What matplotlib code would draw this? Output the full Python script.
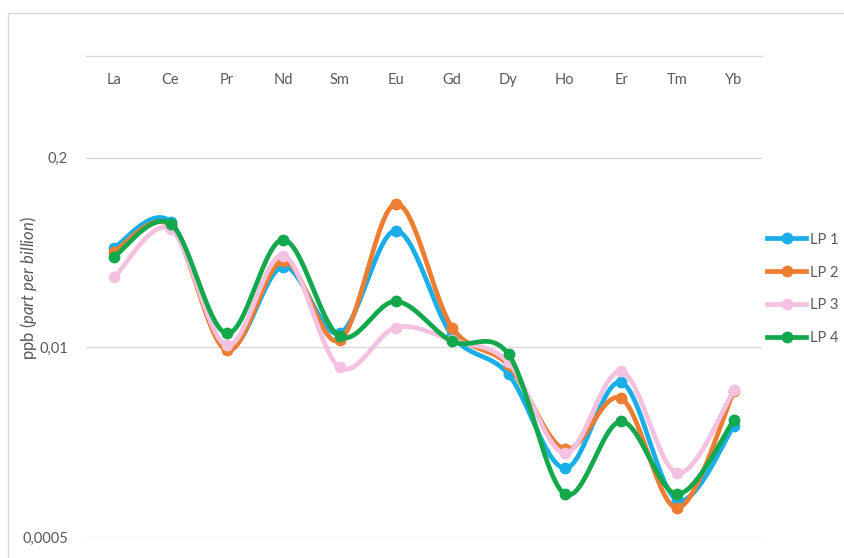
import numpy as np
import matplotlib
matplotlib.use("Agg")
import matplotlib.pyplot as plt
from matplotlib.lines import Line2D
from matplotlib.patches import Rectangle

plt.rcParams['font.family'] = ['Lato', 'DejaVu Sans']
plt.rcParams['mathtext.fontset'] = 'custom'
plt.rcParams['mathtext.rm'] = 'Lato'
plt.rcParams['mathtext.it'] = 'Lato:italic'

elements = ["La", "Ce", "Pr", "Nd", "Sm", "Eu", "Gd", "Dy", "Ho", "Er", "Tm", "Yb"]

lp1 = [0.0484, 0.0729, 0.00984, 0.0359, 0.01247, 0.0633, 0.01208, 0.00653, 0.00148, 0.00576, 0.000896, 0.00288]
lp2 = [0.0454, 0.0684, 0.00954, 0.0394, 0.01117, 0.0968, 0.0137, 0.00753, 0.00200, 0.00447, 0.00079, 0.00500]
lp3 = [0.0302, 0.0653, 0.01032, 0.0427, 0.0073, 0.0137, 0.01117, 0.00789, 0.00188, 0.00685, 0.00137, 0.00508]
lp4 = [0.0420, 0.0707, 0.01247, 0.0549, 0.0119, 0.0207, 0.01099, 0.00896, 0.000985, 0.00311, 0.000985, 0.00316]

series = [("LP 1", lp1, "#1AAEE8"),
          ("LP 2", lp2, "#ED7D31"),
          ("LP 3", lp3, "#F5C1E1"),
          ("LP 4", lp4, "#12A84B")]

y_ticks = [0.0005, 0.01, 0.2]
y_tick_labels = ["0,0005", "0,01", "0,2"]

text_col = "#595959"
grid_col = "#D9D9D9"


def smooth(x, logy, n=30):
    """Catmull-Rom spline through the points (x, log y)."""
    p = np.column_stack([x, logy])
    p = np.vstack([p[0], p, p[-1]])
    out = []
    t = np.linspace(0, 1, n, endpoint=False)
    for i in range(1, len(p) - 2):
        p0, p1, p2, p3 = p[i - 1], p[i], p[i + 1], p[i + 2]
        c1 = p1 + (p2 - p0) / 6.0
        c2 = p2 - (p3 - p1) / 6.0
        tt = t[:, None]
        seg = ((1 - tt) ** 3 * p1 + 3 * (1 - tt) ** 2 * tt * c1
               + 3 * (1 - tt) * tt ** 2 * c2 + tt ** 3 * p2)
        out.append(seg)
    out.append(p[-2][None, :])
    out = np.vstack(out)
    return out[:, 0], 10 ** out[:, 1]


fig = plt.figure(figsize=(8.45, 5.58), dpi=100)
fig.patches.append(Rectangle((8 / 845, -0.1), 1.2, 1 - 13 / 558 + 0.1,
                             transform=fig.transFigure, fill=False,
                             edgecolor=grid_col, linewidth=1.0))
ax = fig.add_axes([86 / 845, 1 - 537 / 558, 676 / 845, 481 / 558])

x = np.arange(len(elements))
for i, (name, vals, col) in enumerate(series):
    xs, ys = smooth(x, np.log10(vals))
    ax.plot(xs, ys, color=col, linewidth=3.4, solid_capstyle='round', zorder=3 + i)
    ax.plot(x, vals, linestyle='none', marker='o', markersize=7.5,
            color=col, zorder=3 + i)

ax.set_yscale('log', base=20)
ax.set_ylim(0.0005, 1)
ax.set_xlim(-0.5, len(elements) - 0.5)
ax.set_yticks(y_ticks)
ax.set_yticklabels(y_tick_labels)
ax.yaxis.set_minor_locator(matplotlib.ticker.NullLocator())
ax.tick_params(axis='y', length=0, pad=13, labelsize=10.5, labelcolor=text_col)
ax.grid(axis='y', color=grid_col, linewidth=1.0)
ax.set_axisbelow(True)

ax.set_xticks(x)
ax.set_xticklabels(elements)
ax.xaxis.tick_top()
ax.tick_params(axis='x', length=0, pad=-22, labelsize=10.5, labelcolor=text_col)

for s in ['left', 'right', 'bottom']:
    ax.spines[s].set_visible(False)
ax.spines['top'].set_color(grid_col)
ax.spines['top'].set_linewidth(1.0)

ax.set_ylabel(r"ppb ($\it{part\ per\ billion}$)", fontsize=12, color=text_col)
ax.yaxis.set_label_coords(-0.069, 0.518)

handles = [Line2D([0], [0], color=col, linewidth=3.4, marker='o', markersize=7.5)
           for _, _, col in series]
leg = fig.legend(handles, [s[0] for s in series], loc='center left',
                 bbox_to_anchor=(767 / 845, 1 - 289 / 558), frameon=False,
                 fontsize=10.5, handlelength=2.7, handletextpad=0.25,
                 labelspacing=1.3, borderaxespad=0, borderpad=0)
for t in leg.get_texts():
    t.set_color(text_col)

fig.savefig("out.png", dpi=100)
